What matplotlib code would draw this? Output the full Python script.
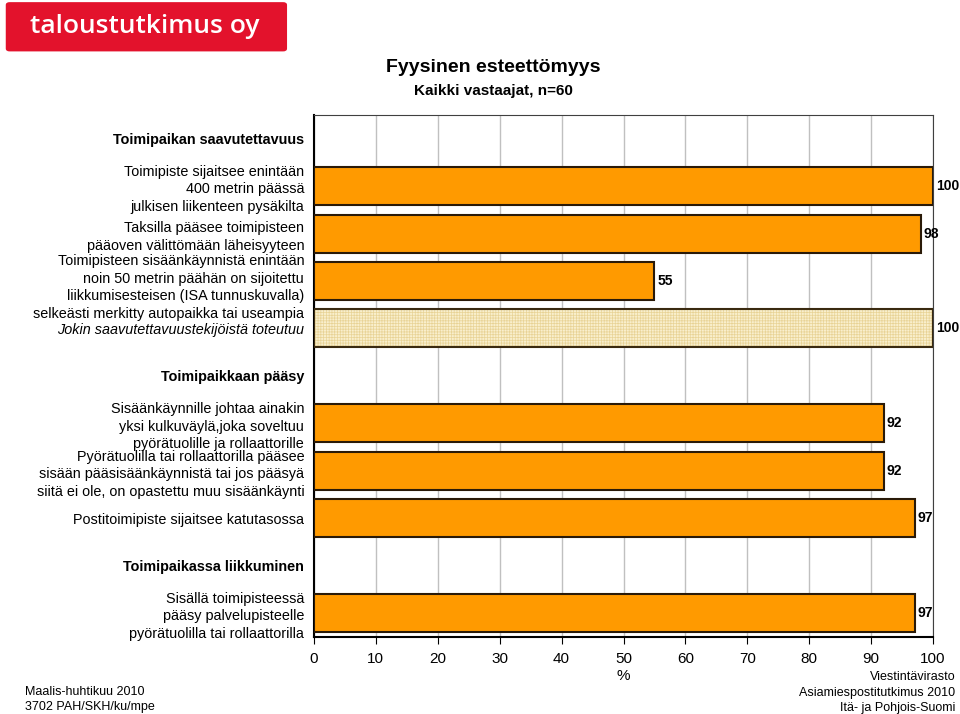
import matplotlib.pyplot as plt
import matplotlib.patches as mpatches
import matplotlib.transforms as mtransforms
import numpy as np

plt.rcParams['font.family'] = ['Liberation Sans', 'DejaVu Sans']
plt.rcParams['hatch.linewidth'] = 0.5

# data
section_titles = ["Toimipaikan saavutettavuus",
                  "Toimipaikkaan pääsy",
                  "Toimipaikassa liikkuminen"]
section_items = [
    ["Toimipiste sijaitsee enintään\n400 metrin päässä\njulkisen liikenteen pysäkilta",
     "Taksilla pääsee toimipisteen\npääoven välittömään läheisyyteen",
     "Toimipisteen sisäänkäynnistä enintään\nnoin 50 metrin päähän on sijoitettu\n"
     "liikkumisesteisen (ISA tunnuskuvalla)\nselkeästi merkitty autopaikka tai useampia",
     "Jokin saavutettavuustekijöistä toteutuu"],
    ["Sisäänkäynnille johtaa ainakin\nyksi kulkuväylä,joka soveltuu\npyörätuolille ja rollaattorille",
     "Pyörätuolilla tai rollaattorilla pääsee\nsisään pääsisäänkäynnistä tai jos pääsyä\n"
     "siitä ei ole, on opastettu muu sisäänkäynti",
     "Postitoimipiste sijaitsee katutasossa"],
    ["Sisällä toimipisteessä\npääsy palvelupisteelle\npyörätuolilla tai rollaattorilla"],
]
section_values = [[100, 98, 55, 100], [92, 92, 97], [97]]
summary_item = (0, 3)  # (section, item) drawn as the summary bar

xticks = list(range(0, 101, 10))

fig = plt.figure(figsize=(9.6, 7.14), dpi=100)
ax = fig.add_axes([0.327, 0.108, 0.645, 0.731])

# build rows: header row then its items
labels, rows, kinds = [], [], []
r = 0
for s, title in enumerate(section_titles):
    labels.append(title); rows.append(r); kinds.append('header'); r += 1
    for i, (txt, v) in enumerate(zip(section_items[s], section_values[s])):
        kind = 'summary' if (s, i) == summary_item else 'bar'
        labels.append(txt); rows.append(r); kinds.append(kind)
        if kind == 'summary':
            ax.barh(r, v, height=0.8, color='#f9efcc', linewidth=0, zorder=3)
            ax.barh(r, v, height=0.8, color='none', edgecolor='#e8d396',
                    linewidth=0, hatch='++++++', zorder=3)
            ax.barh(r, v, height=0.8, color='none', edgecolor='#3a2a10',
                    linewidth=1.5, zorder=4)
        else:
            ax.barh(r, v, height=0.8, color='#ff9a00', edgecolor='#2a1a08',
                    linewidth=1.5, zorder=3)
        ax.annotate(str(v), (v, r), xytext=(2, 0), textcoords='offset points',
                    va='center', ha='left', fontsize=10, fontweight='bold',
                    annotation_clip=False)
        r += 1

ax.set_xlim(0, 100)
ax.set_ylim(r - 0.5, -0.5)
ax.set_xticks(xticks)
ax.tick_params(axis='x', labelsize=11, length=5, direction='out', pad=6)
ax.set_xlabel('%', fontsize=11, labelpad=2)
ax.grid(axis='x', color='#c0c0c0', linewidth=1, zorder=0)
ax.set_axisbelow(True)

ax.set_yticks(rows)
ax.set_yticklabels(labels, fontsize=10.4, ha='right', linespacing=1.33)
ax.tick_params(axis='y', length=0, pad=7)
for lab, kind in zip(ax.get_yticklabels(), kinds):
    if kind == 'header':
        lab.set_fontweight('bold')
    elif kind == 'summary':
        lab.set_fontstyle('italic')
    # the four-line label sits a little lower in the original
    if lab.get_text().count('\n') >= 3:
        lab.set_transform(lab.get_transform() +
                          mtransforms.ScaledTranslation(0, -0.03, fig.dpi_scale_trans))

for side in ['top', 'right']:
    ax.spines[side].set_color('#404040')
ax.spines['left'].set_linewidth(1.5)
ax.spines['bottom'].set_linewidth(1.5)

# logo
logo = mpatches.FancyBboxPatch((0.006, 0.928), 0.293, 0.069,
                               boxstyle='round,pad=0,rounding_size=0.004',
                               transform=fig.transFigure, facecolor='#e3122c',
                               edgecolor='none')
fig.patches.append(logo)
fig.text(0.031, 0.963, 'taloustutkimus oy', color='white', fontsize=19,
         fontweight='semibold', va='center', ha='left', family='Open Sans')

fig.text(0.514, 0.906, 'Fyysinen esteettömyys', fontsize=14, fontweight='bold',
         ha='center', va='center')
fig.text(0.514, 0.872, 'Kaikki vastaajat, n=60', fontsize=11, fontweight='bold',
         ha='center', va='center')

fig.text(0.026, 0.020, 'Maalis-huhtikuu 2010\n3702 PAH/SKH/ku/mpe', fontsize=9,
         ha='left', va='center', linespacing=1.35)
fig.text(0.995, 0.030, 'Viestintävirasto\nAsiamiespostitutkimus 2010\nItä- ja Pohjois-Suomi',
         fontsize=9, ha='right', va='center', linespacing=1.35)

fig.savefig('out.png', dpi=100)
